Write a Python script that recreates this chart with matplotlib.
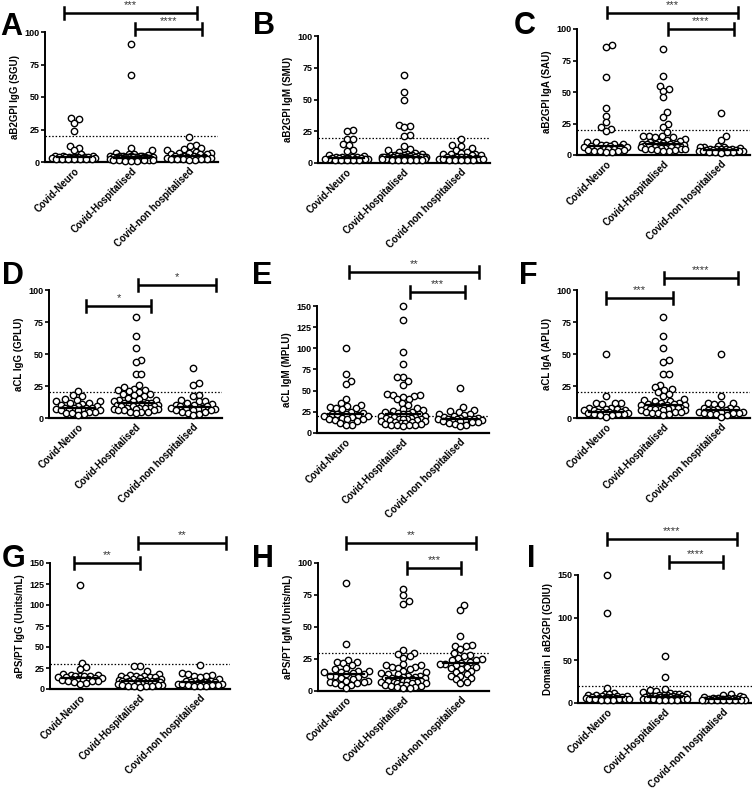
import numpy as np
import matplotlib
matplotlib.use("Agg")
import matplotlib.pyplot as plt

plt.rcParams['font.family'] = ['Liberation Sans', 'DejaVu Sans']

groups = ["Covid-Neuro", "Covid-Hospitalised", "Covid-non hospitalised"]

# ---- values, one list per group ----
A_neuro = [34, 33, 30, 24, 12.5, 11, 9, 6, 5, 5, 4.5, 4, 4, 4, 4, 3.5, 3.5, 3.5, 3, 3, 3, 3, 3, 2.5, 2.5, 2.5, 2, 2, 2, 2]
A_hosp = [91, 67, 10.5, 9, 7, 6.5, 6, 5.5, 5, 5, 5, 4.5, 4.5, 4.5, 4, 4, 4, 4, 4, 3.5, 3.5, 3.5, 3.5, 3.5, 3, 3, 3, 3, 3, 3,
          3, 2.5, 2.5, 2.5, 2.5, 2.5, 2.5, 2, 2, 2, 2, 2, 2, 2, 1.5, 1.5, 1.5, 1.5, 1.5, 1, 1, 1]
A_non = [19, 13, 12, 11, 10, 9, 8, 7, 7, 7, 6, 6, 6, 5, 5, 4.5, 4, 4, 3.5, 3.5, 3, 3, 3, 2.5, 2.5, 2, 2, 2, 1.5, 1.5]

B_neuro = [26, 25, 19, 19, 15, 14, 10, 9.5, 6, 5.5, 5, 5, 4.5, 4.5, 4, 4, 4, 4, 3.5, 3.5, 3.5, 3, 3, 3, 3, 2.5, 2.5, 2, 2, 2]
B_hosp = [69, 56, 50, 30, 29, 28, 22, 21, 13, 11, 10, 9, 8, 7, 7, 6, 6, 6, 6, 5.5, 5.5, 5.5, 5.5, 5, 5, 5, 5, 5, 4.5, 4.5,
          4.5, 4.5, 4.5, 4, 4, 4, 4, 4, 3.5, 3.5, 3.5, 3.5, 3, 3, 3, 3, 2.5, 2.5, 2.5, 2, 2, 2]
B_non = [19, 14, 13, 12, 10, 9, 8, 7, 7, 7, 6, 6, 5, 5, 4.5, 4.5, 4, 4, 4, 3.5, 3.5, 3.5, 3, 3, 3, 2.5, 2.5, 2, 2, 2]

C_neuro = [87, 86, 62, 37, 31, 26, 22, 21, 19, 10, 10, 9, 9, 8, 8, 7, 7, 6.5, 6, 6, 5.5, 5, 5, 4.5, 4, 4, 3.5, 3, 3, 2.5, 2]
C_hosp = [84, 63, 55, 52, 51, 46, 34, 30, 25, 22, 18, 15, 15, 15, 14, 14, 13, 12, 11, 10, 10, 9.5, 9, 9, 9, 8.5, 8.5, 8, 8, 8,
          8, 7.5, 7.5, 7, 7, 7, 7, 6.5, 6.5, 6, 6, 6, 5.5, 5.5, 5, 5, 5, 4.5, 4, 4, 3.5, 3]
C_non = [33, 15, 12, 7, 6, 6, 6, 5.5, 5, 5, 5, 4.5, 4.5, 4, 4, 4, 4, 3.5, 3.5, 3.5, 3, 3, 3, 2.5, 2.5, 2, 2, 1.5]

D_neuro = [21, 18, 17, 15, 14, 13, 13, 12, 12, 11, 10, 9, 9, 8, 8, 8, 8, 7, 7, 7, 6, 6, 6, 5, 5, 4, 4, 3, 2]
D_hosp = [79, 64, 55, 45, 44, 34, 34, 26, 24, 23, 22, 22, 21, 20, 19, 19, 18, 17, 16, 15, 14, 14, 13, 13, 12, 12, 12, 11, 11,
          10, 10, 10, 9, 9, 9, 8, 8, 8, 8, 7, 7, 7, 6, 6, 6, 5, 5, 5, 4]
D_non = [39, 27, 26, 18, 17, 14, 13, 13, 12, 11, 10, 10, 9, 9, 8, 8, 8, 7, 7, 7, 6, 6, 6, 5, 5, 4, 3, 2]

E_neuro = [100, 70, 61, 58, 40, 35, 33, 32, 31, 30, 29, 28, 25, 24, 23, 22, 22, 21, 20, 20, 19, 18, 17, 16, 16, 15, 14, 12,
           10, 9]
E_hosp = [150, 133, 96, 82, 66, 66, 62, 57, 46, 45, 45, 44, 43, 40, 40, 36, 33, 30, 28, 27, 26, 25, 25, 24, 23, 22, 22, 21,
          20, 20, 19, 19, 18, 18, 17, 17, 16, 16, 15, 15, 14, 14, 13, 13, 12, 12, 11, 11, 10, 10, 9, 9, 8]
E_non = [53, 31, 27, 26, 25, 23, 22, 21, 20, 19, 18, 18, 17, 17, 16, 16, 16, 15, 15, 15, 14, 14, 13, 13, 12, 11, 10, 8]

F_neuro = [50, 17, 12, 12, 12, 11, 8, 8, 7, 7, 6, 6, 6, 5, 5, 5, 5, 4, 4, 4, 4, 3, 3, 3, 2, 2, 1]
F_hosp = [79, 64, 55, 45, 44, 34, 34, 26, 24, 23, 22, 20, 19, 17, 15, 14, 13, 13, 12, 12, 11, 11, 10, 10, 10, 9, 9, 9, 8, 8,
          8, 8, 7, 7, 7, 7, 6, 6, 6, 5, 5, 5, 4, 4, 3, 2]
F_non = [50, 17, 12, 12, 11, 11, 8, 8, 7, 7, 6, 6, 6, 5, 5, 5, 4, 4, 4, 3, 3, 2, 1]

G_neuro = [124, 31, 26, 24, 18, 17, 17, 16, 16, 15, 15, 14, 14, 13, 13, 12, 12, 12, 11, 11, 10, 10, 9, 8, 7, 6]
G_hosp = [27, 27, 21, 18, 17, 16, 15, 15, 14, 14, 13, 13, 12, 12, 11, 11, 10, 10, 10, 9, 9, 9, 8, 8, 8, 8, 7, 7, 7, 7, 6, 6,
          6, 5, 5, 5, 4, 4, 3, 3, 2]
G_non = [28, 19, 18, 17, 16, 15, 14, 12, 10, 9, 9, 8, 8, 8, 7, 7, 7, 6, 6, 6, 5, 5, 5, 4, 4, 3]

H_neuro = [84, 37, 24, 23, 23, 22, 20, 18, 17, 16, 16, 15, 15, 14, 13, 13, 12, 12, 11, 10, 9, 8, 8, 7, 7, 6, 6, 5, 5, 2]
H_hosp = [80, 75, 70, 68, 32, 30, 29, 27, 26, 21, 20, 20, 19, 19, 18, 17, 16, 15, 14, 13, 13, 12, 12, 11, 11, 10, 10, 10,
          9, 9, 9, 8, 8, 8, 8, 7, 7, 7, 6, 6, 6, 5, 5, 5, 4, 4, 3, 3, 2, 2]
H_non = [67, 63, 43, 36, 35, 35, 33, 30, 28, 27, 26, 25, 24, 24, 23, 22, 21, 21, 20, 19, 19, 18, 17, 16, 15, 13, 12, 12,
         10, 9, 7, 6]

I_neuro = [150, 105, 18, 12, 11, 10, 9, 9, 8, 8, 8, 7, 7, 7, 7, 6, 6, 6, 6, 6, 5, 5, 5, 5, 5, 4, 4, 4]
I_hosp = [55, 30, 16, 15, 14, 13, 12, 11, 10, 10, 9, 9, 9, 8, 8, 8, 8, 8, 7, 7, 7, 7, 7, 7, 6, 6, 6, 6, 6, 6, 5, 5, 5, 5,
          5, 4, 4, 4, 3]
I_non = [10, 9, 8, 7, 7, 6, 6, 6, 6, 5, 5, 5, 5, 5, 5, 5, 4, 4, 4, 4, 4, 4, 3, 3, 3]

letters = ["A", "B", "C", "D", "E", "F", "G", "H", "I"]
ylabels = ["aB2GPI IgG (SGU)", "aB2GPI IgM (SMU)", "aB2GPI IgA (SAU)",
           "aCL IgG (GPLU)", "aCL IgM (MPLU)", "aCL IgA (APLU)",
           "aPS/PT IgG (Units/mL)", "aPS/PT IgM (Units/mL)", "Domain I aB2GPI (GDIU)"]
series = [(A_neuro, A_hosp, A_non), (B_neuro, B_hosp, B_non), (C_neuro, C_hosp, C_non),
          (D_neuro, D_hosp, D_non), (E_neuro, E_hosp, E_non), (F_neuro, F_hosp, F_non),
          (G_neuro, G_hosp, G_non), (H_neuro, H_hosp, H_non), (I_neuro, I_hosp, I_non)]
ymax = [100, 100, 100, 100, 150, 100, 150, 100, 150]
ystep = [25, 25, 25, 25, 25, 25, 25, 25, 50]
cutoff = [20, 20, 20, 20, 20, 20, 30, 30, 20]
# significance bars: (x from, x to, y, stars)
sig = [[(0.83, 3.13, 114.6, "***"), (2.06, 3.22, 102.3, "****")],
       [],
       [(1.02, 3.29, 113, "***"), (2.07, 3.22, 100, "****")],
       [(1.14, 2.27, 87.5, "*"), (2.04, 3.39, 104, "*")],
       [(1.06, 3.33, 190, "**"), (2.12, 3.08, 166.5, "***")],
       [(1.01, 2.16, 93.7, "***"), (2.0, 3.29, 109.4, "****")],
       [(0.9, 2.0, 150, "**"), (1.97, 3.43, 173.8, "**")],
       [(0.99, 3.27, 115.6, "**"), (2.06, 3.01, 96, "***")],
       [(1.0, 3.24, 192, "****"), (2.07, 3.0, 165, "****")]]

# panel boxes in pixels: left, right, top of y range, y of zero
boxes = [(45, 218, 32, 162), (318, 490, 36, 163), (577, 750, 29, 155),
         (49, 222, 290, 418), (317, 489, 306, 433), (577, 750, 290, 418),
         (50, 230, 563, 689), (318, 489, 563, 691), (578, 752, 575, 703)]
letter_pos = [(0, 12), (253, 11), (514, 11), (2, 261), (252, 261), (519, 261), (2, 544), (252, 544), (527, 544)]

W, H = 752, 789
fig = plt.figure(figsize=(W / 100, H / 100), dpi=100)


def swarm(ax, xc, vals, d=6.0, maxw=22):
    # simple beeswarm in pixel space, points that do not fit stay near the centre
    vals = np.asarray(vals, float)
    pts = ax.transData.transform(np.column_stack([np.full(len(vals), xc), vals]))
    x0 = pts[0, 0]
    ys = pts[:, 1]
    offs = [0.0]
    for k in np.arange(0.5, maxw + 0.01, 0.5):
        offs += [k, -k]
    placed = []
    xs = np.zeros(len(vals))
    for i in np.argsort(ys):
        best, bestd = 0.0, -1
        for o in offs:
            if placed:
                p = np.array(placed)
                md = np.min(np.hypot(p[:, 0] - (x0 + o), p[:, 1] - ys[i]))
            else:
                md = 99
            if md >= d:
                best = o
                break
            if md > bestd + 0.5:
                best, bestd = o, md
        xs[i] = x0 + best
        placed.append((x0 + best, ys[i]))
    return ax.transData.inverted().transform(np.column_stack([xs, ys]))[:, 0]


for n in range(9):
    l, r, t, b = boxes[n]
    ax = fig.add_axes([l / W, 1 - b / H, (r - l) / W, (b - t) / H])
    ax.set_xlim(0.5, 3.5)
    ax.set_ylim(0, ymax[n])
    ax.set_yticks(np.arange(0, ymax[n] + 1, ystep[n]))
    for s in ["top", "right"]:
        ax.spines[s].set_visible(False)
    ax.spines["left"].set_linewidth(1.4)
    ax.spines["bottom"].set_linewidth(1.6)
    ax.tick_params(axis="y", length=3, width=1.2, labelsize=6.5, pad=1)
    ax.tick_params(axis="x", length=0, labelsize=7, pad=3)
    for lab in ax.get_yticklabels():
        lab.set_fontweight("bold")
    ax.set_xticks([1, 2, 3])
    ax.set_xticklabels(groups, rotation=45, ha="right", rotation_mode="anchor", fontweight="bold")
    ax.set_ylabel(ylabels[n], fontsize=7, fontweight="bold", labelpad=3)
    ax.axhline(cutoff[n], color="black", lw=0.9, ls=(0, (1.2, 1.5)), zorder=1)
    for g, vals in enumerate(series[n]):
        xs = swarm(ax, g + 1, vals)
        ax.scatter(xs, vals, s=21, facecolor="white", edgecolor="black", linewidth=1.0, zorder=3, clip_on=False)
        med = np.median(vals)
        ax.plot([g + 1 - 0.3, g + 1 + 0.3], [med, med], color="black", lw=1.6, zorder=4)
    cap = ymax[n] * 0.045
    for x1, x2, y, st in sig[n]:
        ax.plot([x1, x2], [y, y], color="black", lw=1.8, clip_on=False, solid_capstyle="butt")
        ax.plot([x1, x1], [y - cap, y + cap], color="black", lw=1.8, clip_on=False)
        ax.plot([x2, x2], [y - cap, y + cap], color="black", lw=1.8, clip_on=False)
        ax.text((x1 + x2) / 2, y + cap * 0.5, st, ha="center", va="bottom", fontsize=8, color="#333333")
    lx, ly = letter_pos[n]
    fig.text(lx / W, 1 - ly / H, letters[n], fontsize=22, fontweight="bold", ha="left", va="top")

fig.savefig("out.png", dpi=100)
